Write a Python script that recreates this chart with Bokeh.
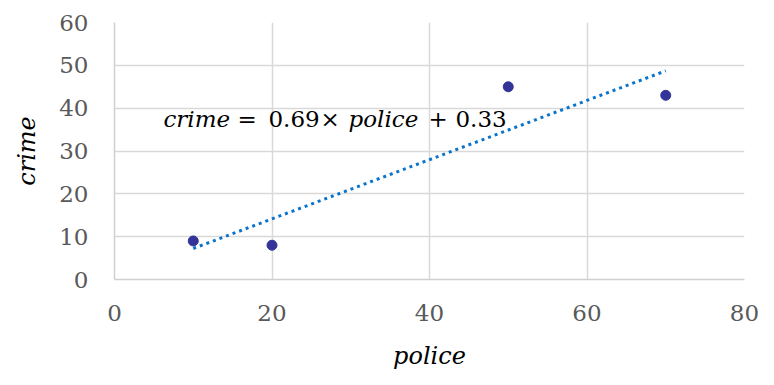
import numpy as np
from bokeh.plotting import figure
from bokeh.models import Label, Range1d, FixedTicker
from bokeh.embed import file_html
from bokeh.resources import INLINE

# data
police = [10, 20, 50, 70]
crime = [9, 8, 45, 43]
x_ticks = [0, 20, 40, 60, 80]
y_ticks = [0, 10, 20, 30, 40, 50, 60]
x_title = "police"
y_title = "crime"

slope, intercept = np.polyfit(police, crime, 1)
fit_x = [min(police), max(police)]
fit_y = [slope * v + intercept for v in fit_x]

SERIF = "DejaVu Serif"

p = figure(width=766, height=377, output_backend="svg", toolbar_location=None,
           x_range=Range1d(0, 80), y_range=Range1d(0, 60),
           min_border_left=114, min_border_right=22, min_border_top=22, min_border_bottom=98)
p.outline_line_color = None
p.background_fill_color = "white"

for ax in (p.xaxis[0], p.yaxis[0]):
    ax.major_tick_line_color = None
    ax.minor_tick_line_color = None
    ax.axis_line_color = "#D0D0D0"
    ax.axis_line_width = 1.5
    ax.major_label_text_font = SERIF
    ax.major_label_text_font_size = "23px"
    ax.major_label_text_color = "#595959"
    ax.axis_label_text_font = SERIF
    ax.axis_label_text_font_style = "italic"
    ax.axis_label_text_font_size = "24px"
    ax.axis_label_text_color = "black"

p.xaxis.ticker = FixedTicker(ticks=x_ticks)
p.yaxis.ticker = FixedTicker(ticks=y_ticks)
p.xaxis.major_label_standoff = 19
p.yaxis.major_label_standoff = 20
p.xaxis.axis_label = x_title
p.yaxis.axis_label = y_title
p.xaxis.axis_label_standoff = 18
p.yaxis.axis_label_standoff = 15

p.xgrid.grid_line_color = "#D9D9D9"
p.ygrid.grid_line_color = "#D9D9D9"
p.xgrid.grid_line_width = 1.5
p.ygrid.grid_line_width = 1.5

p.line(fit_x, fit_y, line_color="#0A74CC", line_width=3, line_dash="3 4")
p.scatter(police, crime, size=10, fill_color="#333399", line_color="#333399")

# equation
eq_pieces = [
    ("crime", "italic", 0),
    ("=", "normal", 74),
    (f"{slope:.2f}", "normal", 105),
    ("\u00d7", "normal", 157),
    ("police", "italic", 185),
    ("+", "normal", 265),
    (f"{intercept:.2f}", "normal", 292),
]
for txt, style, off in eq_pieces:
    p.add_layout(Label(x=6.22, y=37.5, x_offset=off, text=txt, text_font=SERIF,
                       text_font_style=style, text_font_size="23px", text_color="black",
                       text_baseline="alphabetic", text_align="left"))

open("out.html", "w").write(file_html(p, INLINE))
